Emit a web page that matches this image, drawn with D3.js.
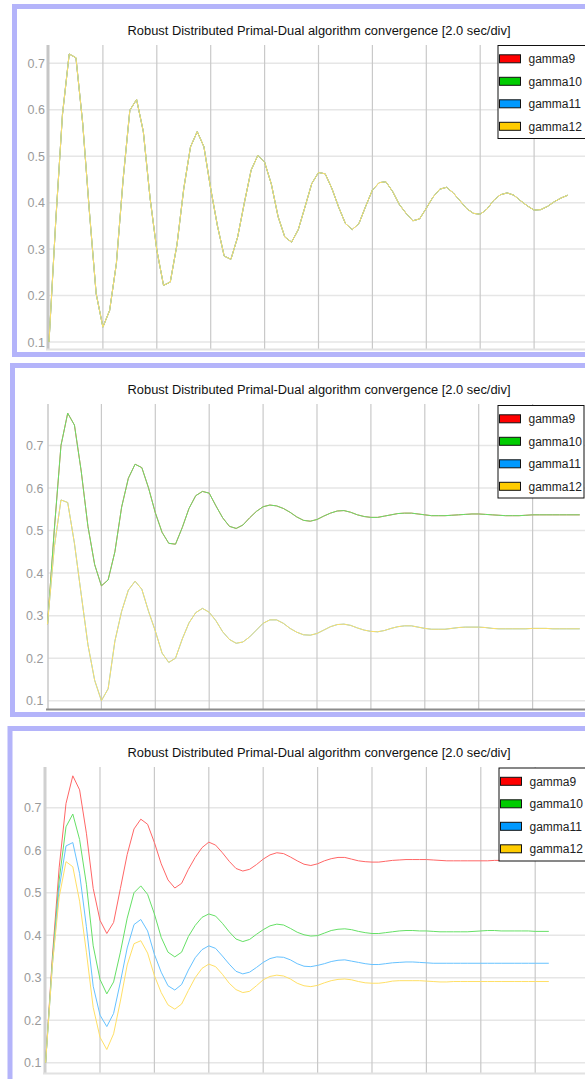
<!DOCTYPE html>
<html>
<head>
<meta charset="utf-8">
<script src="https://cdn.jsdelivr.net/npm/d3@7/dist/d3.min.js"></script>
<style>
  html, body { margin: 0; padding: 0; background: #fff; }
  svg { display: block; font-family: "Liberation Sans", Arial, sans-serif; }
</style>
</head>
<body>
<svg id="chart" width="585" height="1079"></svg>
<script>
// ---- data ----
const titleText = "Robust Distributed Primal-Dual algorithm convergence [2.0 sec/div]";
const seriesNames = ["gamma9", "gamma10", "gamma11", "gamma12"];
const seriesColors = ["#ff0000", "#00cc00", "#0099ff", "#ffcc00"];
const yTickValues = [0.1, 0.2, 0.3, 0.4, 0.5, 0.6, 0.7];
const gridTimes = [2, 4, 6, 8, 10, 12, 14, 16, 18];
const sampleStep = 0.25; // seconds between logged samples

// run 1: all four gammas identical
const run1All = [
  0.100, 0.360, 0.590, 0.720, 0.712, 0.571, 0.380, 0.204, 0.132, 0.168,
  0.269, 0.450, 0.599, 0.622, 0.553, 0.410, 0.298, 0.222, 0.229, 0.310,
  0.430, 0.520, 0.553, 0.520, 0.430, 0.350, 0.285, 0.278, 0.326, 0.400,
  0.470, 0.502, 0.487, 0.440, 0.370, 0.326, 0.315, 0.342, 0.391, 0.441,
  0.465, 0.462, 0.430, 0.390, 0.355, 0.342, 0.355, 0.392, 0.427, 0.443,
  0.445, 0.424, 0.396, 0.377, 0.361, 0.365, 0.388, 0.412, 0.429, 0.433,
  0.421, 0.404, 0.387, 0.377, 0.375, 0.386, 0.405, 0.417, 0.421, 0.416,
  0.404, 0.393, 0.384, 0.385, 0.392, 0.402, 0.410, 0.416
];

// run 2: gamma9 == gamma10, gamma11 == gamma12
const run2Upper = [
  0.280, 0.500, 0.700, 0.776, 0.748, 0.640, 0.510, 0.420, 0.370, 0.384,
  0.450, 0.555, 0.623, 0.656, 0.648, 0.600, 0.542, 0.496, 0.470, 0.468,
  0.507, 0.552, 0.582, 0.592, 0.588, 0.558, 0.530, 0.510, 0.505, 0.513,
  0.530, 0.545, 0.556, 0.560, 0.558, 0.552, 0.543, 0.532, 0.524, 0.522,
  0.526, 0.534, 0.541, 0.546, 0.547, 0.543, 0.537, 0.533, 0.531, 0.531,
  0.534, 0.537, 0.540, 0.541, 0.541, 0.539, 0.537, 0.535, 0.535, 0.535,
  0.536, 0.537, 0.538, 0.539, 0.539, 0.538, 0.537, 0.536, 0.535, 0.535,
  0.535, 0.536, 0.537, 0.537, 0.537, 0.537, 0.537, 0.537, 0.537, 0.537
];
const run2Lower = [
  0.280, 0.460, 0.572, 0.566, 0.470, 0.350, 0.232, 0.148, 0.100, 0.128,
  0.240, 0.310, 0.360, 0.381, 0.362, 0.310, 0.264, 0.212, 0.190, 0.200,
  0.245, 0.283, 0.307, 0.317, 0.308, 0.288, 0.262, 0.244, 0.235, 0.238,
  0.250, 0.266, 0.282, 0.290, 0.290, 0.282, 0.270, 0.261, 0.255, 0.254,
  0.258, 0.266, 0.274, 0.279, 0.280, 0.277, 0.271, 0.266, 0.263, 0.262,
  0.265, 0.270, 0.274, 0.276, 0.276, 0.273, 0.270, 0.268, 0.268, 0.268,
  0.270, 0.272, 0.273, 0.273, 0.273, 0.272, 0.270, 0.269, 0.269, 0.269,
  0.269, 0.269, 0.270, 0.270, 0.270, 0.269, 0.269, 0.269, 0.269, 0.269
];

// run 3: four distinct gammas
const run3Gamma9 = [
  0.100, 0.350, 0.560, 0.710, 0.775, 0.742, 0.640, 0.510, 0.435, 0.404,
  0.430, 0.510, 0.590, 0.650, 0.673, 0.661, 0.618, 0.568, 0.530, 0.511,
  0.522, 0.555, 0.583, 0.606, 0.619, 0.612, 0.594, 0.574, 0.557, 0.551,
  0.555, 0.566, 0.579, 0.589, 0.594, 0.592, 0.584, 0.575, 0.567, 0.564,
  0.568, 0.575, 0.580, 0.583, 0.583, 0.579, 0.575, 0.573, 0.572, 0.572,
  0.574, 0.576, 0.577, 0.578, 0.578, 0.578, 0.578, 0.577, 0.576, 0.575,
  0.575, 0.575, 0.575, 0.575, 0.575, 0.575, 0.576, 0.576, 0.576, 0.576,
  0.576, 0.576, 0.576, 0.576, 0.576
];
const run3Gamma10 = [
  0.100, 0.340, 0.530, 0.655, 0.685, 0.625, 0.520, 0.375, 0.296, 0.262,
  0.290, 0.360, 0.440, 0.500, 0.516, 0.496, 0.450, 0.395, 0.360, 0.349,
  0.360, 0.397, 0.423, 0.442, 0.450, 0.445, 0.428, 0.408, 0.391, 0.385,
  0.390, 0.402, 0.413, 0.422, 0.426, 0.424, 0.416, 0.407, 0.401, 0.398,
  0.399, 0.405, 0.411, 0.414, 0.415, 0.413, 0.409, 0.406, 0.404, 0.404,
  0.406, 0.408, 0.410, 0.411, 0.411, 0.410, 0.410, 0.409, 0.408, 0.408,
  0.408, 0.408, 0.408, 0.409, 0.410, 0.411, 0.411, 0.410, 0.410, 0.410,
  0.410, 0.410, 0.409, 0.409, 0.409
];
const run3Gamma11 = [
  0.100, 0.330, 0.510, 0.610, 0.618, 0.545, 0.420, 0.280, 0.212, 0.185,
  0.216, 0.290, 0.370, 0.425, 0.437, 0.410, 0.355, 0.313, 0.281, 0.271,
  0.284, 0.318, 0.347, 0.366, 0.375, 0.369, 0.351, 0.332, 0.315, 0.309,
  0.313, 0.324, 0.336, 0.345, 0.349, 0.348, 0.342, 0.333, 0.327, 0.326,
  0.329, 0.333, 0.338, 0.341, 0.342, 0.339, 0.336, 0.333, 0.331, 0.331,
  0.333, 0.335, 0.336, 0.337, 0.337, 0.336, 0.335, 0.334, 0.334, 0.334,
  0.334, 0.334, 0.334, 0.334, 0.334, 0.334, 0.334, 0.334, 0.334, 0.334,
  0.334, 0.334, 0.334, 0.334, 0.334
];
const run3Gamma12 = [
  0.100, 0.330, 0.490, 0.573, 0.561, 0.480, 0.360, 0.230, 0.160, 0.131,
  0.168, 0.245, 0.330, 0.380, 0.387, 0.358, 0.305, 0.265, 0.236, 0.226,
  0.238, 0.270, 0.300, 0.322, 0.332, 0.326, 0.308, 0.287, 0.272, 0.265,
  0.268, 0.281, 0.295, 0.303, 0.306, 0.304, 0.297, 0.287, 0.281, 0.279,
  0.282, 0.288, 0.293, 0.296, 0.297, 0.295, 0.291, 0.288, 0.287, 0.287,
  0.289, 0.292, 0.293, 0.293, 0.293, 0.293, 0.292, 0.291, 0.290, 0.290,
  0.291, 0.291, 0.291, 0.291, 0.291, 0.291, 0.291, 0.291, 0.291, 0.291,
  0.291, 0.291, 0.291, 0.291, 0.291
];

// ---- layout of the three screenshot windows ----
const panels = [
  { frame: { x: 12, y: 4, h: 353 }, plot: { left: 48, top: 45, bottom: 350 },
    t0: 49, secPx: 26.95, yLow: 342, yHigh: 63.3, titleY: 35, tickRight: 45,
    axis: { leftW: 3, leftC: "#c6c6c6", bottomC: "#e2e2e2" },
    legend: { x: 497.5, y: 45, w: 92, h: 93 },
    series: [run1All, run1All, run1All, run1All] },
  { frame: { x: 10, y: 363, h: 354 }, plot: { left: 48, top: 404, bottom: 710 },
    t0: 47.5, secPx: 26.95, yLow: 700.7, yHigh: 445.5, titleY: 393.5, tickRight: 43.5,
    axis: { leftW: 1.5, leftC: "#c8c8c8", bottomC: "#8c8c8c" },
    legend: { x: 497.5, y: 405, w: 86, h: 92.5 },
    series: [run2Upper, run2Upper, run2Lower, run2Lower] },
  { frame: { x: 7.5, y: 726, h: 360 }, plot: { left: 45, top: 767, bottom: 1074 },
    t0: 45.6, secPx: 27.2, yLow: 1062.7, yHigh: 807.7, titleY: 756.5, tickRight: 41.5,
    axis: { leftW: 3, leftC: "#d0d0d0", bottomC: "#e2e2e2" },
    legend: { x: 498.5, y: 767.5, w: 92, h: 93 },
    series: [run3Gamma9, run3Gamma10, run3Gamma11, run3Gamma12] }
];

const svg = d3.select("#chart");
const W = 585;
// the screenshots show the thin 1px traces washed out toward white
const traceColor = c => d3.interpolateRgb(c, "#fff")(0.4);

panels.forEach((p, pi) => {
  const g = svg.append("g").attr("class", "panel-" + pi);

  // window frame
  g.append("rect")
    .attr("x", p.frame.x + 2.5).attr("y", p.frame.y + 2.5)
    .attr("width", 620).attr("height", p.frame.h - 5)
    .attr("fill", "#fff")
    .attr("stroke", "#b4b4fa").attr("stroke-width", 5);

  const x = d3.scaleLinear().domain([0, 20]).range([p.t0, p.t0 + 20 * p.secPx]);
  const y = d3.scaleLinear().domain([0.1, 0.7]).range([p.yLow, p.yHigh]);

  // title
  g.append("text")
    .attr("x", 319).attr("y", p.titleY)
    .attr("text-anchor", "middle")
    .attr("font-size", 12.5)
    .attr("fill", "#111")
    .attr("textLength", 383)
    .attr("lengthAdjust", "spacingAndGlyphs")
    .text(titleText);

  // horizontal grid
  g.append("g").selectAll("line").data(yTickValues).join("line")
    .attr("x1", p.plot.left).attr("x2", W)
    .attr("y1", d => y(d)).attr("y2", d => y(d))
    .attr("stroke", "#e6e6e6").attr("stroke-width", 1.5);

  // vertical grid (2.0 sec/div)
  g.append("g").selectAll("line").data(gridTimes).join("line")
    .attr("x1", d => x(d)).attr("x2", d => x(d))
    .attr("y1", p.plot.top).attr("y2", p.plot.bottom)
    .attr("stroke", "#c9c9c9").attr("stroke-width", 1.2);

  // y tick labels
  g.append("g").selectAll("text").data(yTickValues).join("text")
    .attr("x", p.tickRight).attr("y", d => y(d) + 4.5)
    .attr("text-anchor", "end")
    .attr("font-size", 12.5)
    .attr("fill", "#9a9a9a")
    .text(d3.format(".1f"));

  // axes lines
  g.append("line")
    .attr("x1", p.plot.left).attr("x2", p.plot.left)
    .attr("y1", p.plot.top).attr("y2", p.plot.bottom)
    .attr("stroke", p.axis.leftC).attr("stroke-width", p.axis.leftW);
  g.append("line")
    .attr("x1", p.plot.left - 2).attr("x2", W)
    .attr("y1", p.plot.bottom - 0.5).attr("y2", p.plot.bottom - 0.5)
    .attr("stroke", p.axis.bottomC).attr("stroke-width", 2);

  // series lines: later series paint over earlier ones
  const line = d3.line()
    .x((d, i) => x(i * sampleStep))
    .y(d => y(d))
    .curve(d3.curveLinear);

  g.append("g").selectAll("path").data(p.series).join("path")
    .attr("d", line)
    .attr("fill", "none")
    .attr("stroke", (d, i) => traceColor(seriesColors[i]))
    .attr("stroke-width", 1);

  // legend
  const lg = g.append("g").attr("transform", `translate(${p.legend.x},${p.legend.y})`);
  lg.append("rect")
    .attr("x", 0.5).attr("y", 0.5)
    .attr("width", p.legend.w).attr("height", p.legend.h)
    .attr("fill", "#fff").attr("stroke", "#111").attr("stroke-width", 1);
  const rows = lg.selectAll("g.row").data(seriesNames).join("g")
    .attr("class", "row")
    .attr("transform", (d, i) => `translate(0,${13.8 + i * 22.5})`);
  rows.append("rect")
    .attr("x", 2).attr("y", -4)
    .attr("width", 21).attr("height", 8)
    .attr("fill", (d, i) => seriesColors[i])
    .attr("stroke", "#111").attr("stroke-width", 1);
  rows.append("text")
    .attr("x", 31).attr("y", 4.5)
    .attr("font-size", 12)
    .attr("fill", "#222")
    .text(d => d);
});
</script>
</body>
</html>
